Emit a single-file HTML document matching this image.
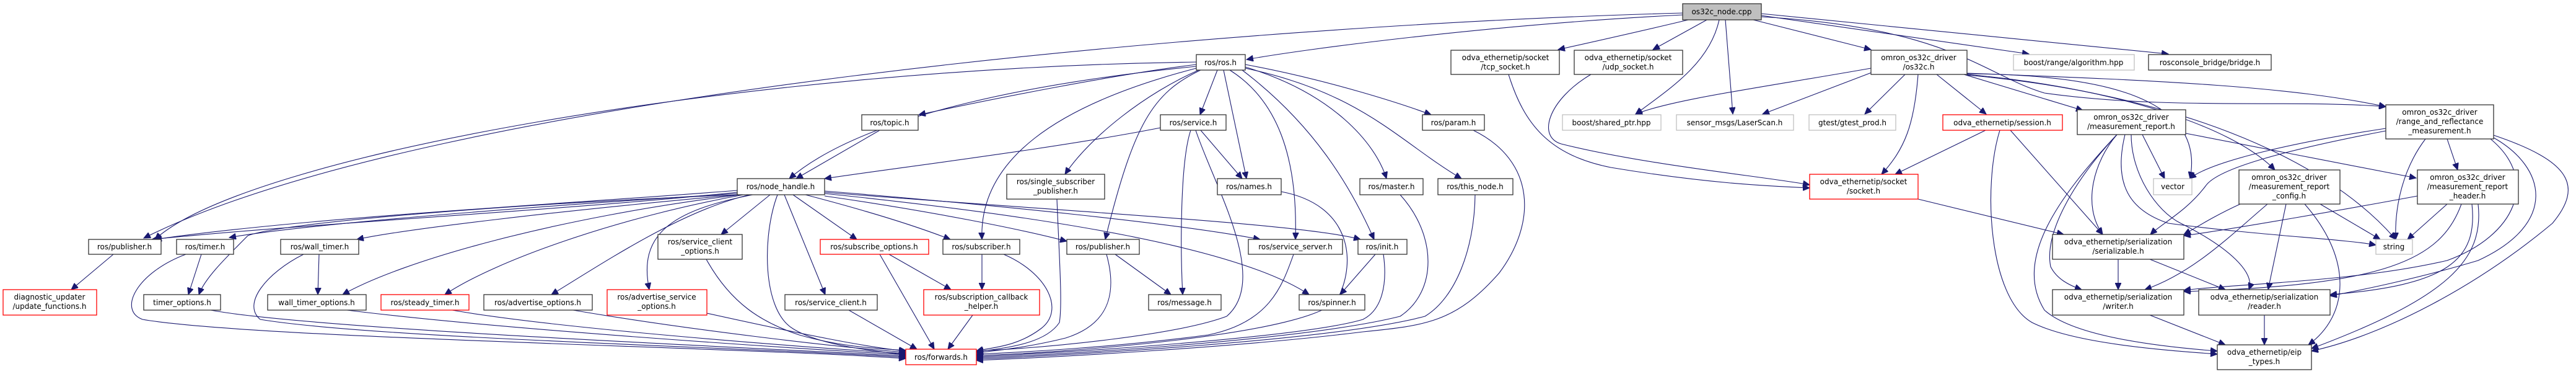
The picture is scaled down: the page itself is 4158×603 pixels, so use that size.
<!DOCTYPE html>
<html><head><meta charset="utf-8"><style>
html,body{margin:0;padding:0;background:#fff;}
svg{display:block;}
text{font-family:"DejaVu Sans","Liberation Sans",sans-serif;font-size:12px;fill:#000;text-anchor:middle;}
.n{fill:#fff;stroke:#333;stroke-width:1.3;}
.g{fill:#fff;stroke:#bfbfbf;stroke-width:1.3;}
.r{fill:#fff;stroke:#ff0000;stroke-width:1.3;}
.e path{fill:none;stroke:#191970;stroke-width:1.1;marker-end:url(#a);}
</style></head><body>
<svg width="4158" height="603" viewBox="0 0 4158 603" xmlns="http://www.w3.org/2000/svg">
<defs><marker id="a" markerUnits="userSpaceOnUse" markerWidth="12" markerHeight="10" refX="11" refY="5" orient="auto"><path d="M0,0 L11,5 L0,10 z" fill="#191970" stroke="#191970"/></marker></defs>
<g class="e">
<path d="M2716,21 C2000,40 700,150 232,384"/>
<path d="M2716,24 C2400,40 2100,80 2012,96"/>
<path d="M2725,32 C2650,50 2560,70 2515,80"/>
<path d="M2755,32 L2668,80"/>
<path d="M2775,32 C2760,100 2700,140 2640,184"/>
<path d="M2785,32 L2797,184"/>
<path d="M2830,32 L3020,80"/>
<path d="M2843,25 L3275,87"/>
<path d="M2843,22 L3500,87"/>
<path d="M2843,27 C3150,45 3200,120 3300,150 C3500,178 3700,160 3851,172"/>
<path d="M1931,100 C1200,110 400,250 250,386"/>
<path d="M1931,104 C1800,120 1600,160 1483,185"/>
<path d="M1931,107 C1700,130 1400,180 1274,288"/>
<path d="M1935,113 C1850,150 1760,220 1719,281"/>
<path d="M1931,110 C1700,170 1580,260 1585,386"/>
<path d="M1938,113 C1860,150 1830,200 1784,386"/>
<path d="M1965,113 L1937,185"/>
<path d="M1975,113 L2012,288"/>
<path d="M1985,113 C2060,160 2095,250 2091,386"/>
<path d="M2010,104 C2150,130 2270,170 2310,185"/>
<path d="M2010,108 C2150,150 2220,230 2238,288"/>
<path d="M2010,110 C2200,150 2260,230 2359,288"/>
<path d="M2005,113 C2120,200 2180,300 2218,386"/>
<path d="M1420,210 L1285,288"/>
<path d="M1873,206 C1700,240 1450,270 1331,288"/>
<path d="M1938,210 L2005,288"/>
<path d="M1922,210 C1905,260 1905,400 1909,475"/>
<path d="M1930,210 C1960,300 2050,450 1980,510 C1900,540 1700,560 1576,566"/>
<path d="M1190,307 C900,330 500,350 250,386"/>
<path d="M1190,310 C900,340 500,360 245,386"/>
<path d="M1190,312 C900,330 500,360 370,383"/>
<path d="M1190,314 C800,330 450,360 400,380 C360,420 330,450 321,475"/>
<path d="M1190,314 C900,340 650,370 576,386"/>
<path d="M1195,314 C900,350 650,420 553,475"/>
<path d="M1200,314 C1000,350 800,420 718,475"/>
<path d="M1210,314 C1100,340 980,420 890,475"/>
<path d="M1215,314 C1080,340 1030,380 1048,467"/>
<path d="M1243,314 L1164,378"/>
<path d="M1255,314 C1230,380 1230,500 1280,530 C1320,555 1400,565 1462,572"/>
<path d="M1266,314 L1332,475"/>
<path d="M1280,314 L1383,386"/>
<path d="M1300,314 C1400,340 1480,365 1534,386"/>
<path d="M1331,316 C1500,340 1650,370 1722,389"/>
<path d="M1331,308 C1600,330 1900,360 2034,386"/>
<path d="M1331,310 C1700,340 2100,360 2196,386"/>
<path d="M1331,312 C1700,350 2000,400 2113,475"/>
<path d="M325,410 L304,475"/>
<path d="M300,410 C220,440 190,500 230,515 C400,545 1200,560 1462,578"/>
<path d="M515,410 L513,475"/>
<path d="M490,410 C430,440 390,490 420,515 C600,545 1200,560 1462,576"/>
<path d="M340,500 C500,530 1200,560 1462,574"/>
<path d="M560,500 C800,530 1250,560 1462,572"/>
<path d="M730,500 C900,530 1300,560 1462,570"/>
<path d="M925,500 C1100,530 1350,560 1462,568"/>
<path d="M1141,505 C1300,540 1400,560 1462,566"/>
<path d="M1140,418 C1180,490 1230,520 1290,540 C1360,560 1420,562 1462,565"/>
<path d="M1370,500 L1480,563"/>
<path d="M1420,410 L1508,563"/>
<path d="M1435,410 L1535,467"/>
<path d="M1585,410 L1585,467"/>
<path d="M1620,410 C1690,440 1720,500 1680,530 C1640,560 1600,560 1576,566"/>
<path d="M1570,508 L1530,563"/>
<path d="M1786,410 C1800,460 1800,520 1720,545 C1660,560 1610,565 1576,569"/>
<path d="M1800,410 L1890,475"/>
<path d="M1706,321 C1710,420 1715,490 1710,520 C1690,550 1640,560 1576,567"/>
<path d="M2088,410 C2070,460 2050,520 1950,540 C1800,560 1650,568 1576,571"/>
<path d="M2068,309 C2180,330 2190,420 2160,480 C2130,540 1700,570 1576,573"/>
<path d="M2220,410 L2163,475"/>
<path d="M2233,410 C2240,460 2230,500 2200,515 C2100,545 1700,570 1576,575"/>
<path d="M2260,314 C2320,380 2320,470 2260,510 C2100,550 1700,572 1576,577"/>
<path d="M2381,314 C2380,400 2350,480 2300,510 C2150,550 1700,574 1576,579"/>
<path d="M2378,210 C2480,260 2480,360 2420,440 C2350,520 2300,525 2200,535 C2000,560 1700,576 1576,581"/>
<path d="M183,410 L115,467"/>
<path d="M2435,120 C2460,200 2500,250 2600,270 C2750,295 2850,300 2921,303"/>
<path d="M2568,120 C2500,160 2480,220 2520,232 C2650,265 2850,285 2921,298"/>
<path d="M3096,120 C3090,200 3075,240 3037,281"/>
<path d="M3034,112 L2845,184"/>
<path d="M3020,110 C2850,140 2700,160 2640,184"/>
<path d="M3075,120 L3010,184"/>
<path d="M3126,120 L3206,184"/>
<path d="M3170,120 L3362,178"/>
<path d="M3175,118 C3500,130 3700,140 3851,172"/>
<path d="M3175,119 C3400,120 3560,160 3535,288"/>
<path d="M3175,121 C3500,150 3750,250 3867,386"/>
<path d="M3175,120 C3400,140 3600,200 3672,274"/>
<path d="M3205,210 L3059,281"/>
<path d="M3245,210 L3394,378"/>
<path d="M3228,210 C3200,300 3210,480 3280,520 C3350,555 3500,565 3579,571"/>
<path d="M3096,321 L3331,378"/>
<path d="M3458,217 L3494,288"/>
<path d="M3417,217 C3380,260 3360,330 3394,378"/>
<path d="M3417,217 C3340,300 3300,380 3310,430 C3320,450 3340,460 3360,467"/>
<path d="M3417,217 C3320,320 3250,420 3300,500 C3350,545 3500,560 3579,566"/>
<path d="M3430,217 C3410,300 3440,340 3500,360 C3650,380 3780,385 3835,395"/>
<path d="M3440,217 C3440,280 3480,340 3520,360 C3600,400 3640,440 3630,467"/>
<path d="M3528,215 L3900,287"/>
<path d="M3851,207 C3700,230 3570,260 3534,288"/>
<path d="M3851,211 C3700,240 3580,270 3560,300 C3530,340 3490,360 3471,378"/>
<path d="M3915,224 C3880,270 3865,330 3867,386"/>
<path d="M3950,224 L3967,274"/>
<path d="M4020,224 C4100,290 4060,380 3950,420 C3800,455 3600,458 3525,468"/>
<path d="M4025,222 C4110,270 4130,360 4000,420 C3900,450 3800,470 3761,477"/>
<path d="M4025,218 C4150,260 4170,300 4120,360 C4000,460 3850,540 3731,566"/>
<path d="M3616,329 C3570,350 3540,370 3525,378"/>
<path d="M3660,329 C3600,380 3540,440 3462,467"/>
<path d="M3690,329 L3661,467"/>
<path d="M3720,329 C3800,420 3790,510 3726,556"/>
<path d="M3745,329 L3842,386"/>
<path d="M3902,316 C3800,335 3600,370 3525,380"/>
<path d="M3950,329 L3886,386"/>
<path d="M3973,329 C3940,420 3850,460 3525,470"/>
<path d="M3990,329 C4000,420 3950,460 3761,475"/>
<path d="M4000,329 C4010,420 3950,480 3731,562"/>
<path d="M3419,418 L3419,467"/>
<path d="M3470,418 L3592,467"/>
<path d="M3470,508 L3592,556"/>
<path d="M3655,508 L3655,556"/>
</g>
<g>
<rect x="2716" y="6" width="127" height="26" fill="#bfbfbf" stroke="#333" stroke-width="1.3"/><text x="2779" y="23">os32c_node.cpp</text>
<rect class="n" x="1931" y="88" width="79" height="25"/><text x="1970" y="105">ros/ros.h</text>
<rect class="n" x="2342" y="81" width="175" height="39"/><text x="2430" y="97">odva_ethernetip/socket</text><text x="2430" y="112">/tcp_socket.h</text>
<rect class="n" x="2541" y="81" width="175" height="39"/><text x="2628" y="97">odva_ethernetip/socket</text><text x="2628" y="112">/udp_socket.h</text>
<rect class="n" x="3020" y="81" width="155" height="39"/><text x="3097" y="97">omron_os32c_driver</text><text x="3097" y="112">/os32c.h</text>
<rect class="g" x="3250" y="88" width="195" height="25"/><text x="3347" y="105">boost/range/algorithm.hpp</text>
<rect class="n" x="3468" y="88" width="198" height="25"/><text x="3567" y="105">rosconsole_bridge/bridge.h</text>
<rect class="n" x="1391" y="185" width="91" height="25"/><text x="1436" y="202">ros/topic.h</text>
<rect class="n" x="1873" y="185" width="106" height="25"/><text x="1926" y="202">ros/service.h</text>
<rect class="n" x="2296" y="185" width="100" height="25"/><text x="2346" y="202">ros/param.h</text>
<rect class="g" x="2522" y="185" width="159" height="25"/><text x="2601" y="202">boost/shared_ptr.hpp</text>
<rect class="g" x="2706" y="185" width="189" height="25"/><text x="2800" y="202">sensor_msgs/LaserScan.h</text>
<rect class="g" x="2920" y="185" width="140" height="25"/><text x="2990" y="202">gtest/gtest_prod.h</text>
<rect class="r" x="3136" y="185" width="193" height="25"/><text x="3232" y="202">odva_ethernetip/session.h</text>
<rect class="n" x="3353" y="177" width="175" height="40"/><text x="3440" y="193">omron_os32c_driver</text><text x="3440" y="208">/measurement_report.h</text>
<rect class="n" x="3851" y="169" width="174" height="55"/><text x="3938" y="185">omron_os32c_driver</text><text x="3938" y="200">/range_and_reflectance</text><text x="3938" y="215">_measurement.h</text>
<rect class="n" x="1190" y="288" width="141" height="26"/><text x="1260" y="305">ros/node_handle.h</text>
<rect class="n" x="1625" y="281" width="158" height="40"/><text x="1704" y="297">ros/single_subscriber</text><text x="1704" y="312">_publisher.h</text>
<rect class="n" x="1965" y="288" width="103" height="26"/><text x="2016" y="305">ros/names.h</text>
<rect class="n" x="2195" y="288" width="102" height="26"/><text x="2246" y="305">ros/master.h</text>
<rect class="n" x="2321" y="288" width="121" height="26"/><text x="2381" y="305">ros/this_node.h</text>
<rect class="r" x="2921" y="281" width="175" height="40"/><text x="3008" y="297">odva_ethernetip/socket</text><text x="3008" y="312">/socket.h</text>
<rect class="g" x="3476" y="288" width="62" height="26"/><text x="3507" y="305">vector</text>
<rect class="n" x="3614" y="274" width="163" height="55"/><text x="3695" y="290">omron_os32c_driver</text><text x="3695" y="305">/measurement_report</text><text x="3695" y="320">_config.h</text>
<rect class="n" x="3902" y="274" width="163" height="55"/><text x="3983" y="290">omron_os32c_driver</text><text x="3983" y="305">/measurement_report</text><text x="3983" y="320">_header.h</text>
<rect class="n" x="143" y="386" width="117" height="24"/><text x="201" y="402">ros/publisher.h</text>
<rect class="n" x="285" y="386" width="92" height="24"/><text x="331" y="402">ros/timer.h</text>
<rect class="n" x="453" y="386" width="126" height="24"/><text x="516" y="402">ros/wall_timer.h</text>
<rect class="n" x="1062" y="378" width="136" height="40"/><text x="1130" y="394">ros/service_client</text><text x="1130" y="409">_options.h</text>
<rect class="r" x="1324" y="386" width="175" height="24"/><text x="1411" y="402">ros/subscribe_options.h</text>
<rect class="n" x="1522" y="386" width="124" height="24"/><text x="1584" y="402">ros/subscriber.h</text>
<rect class="n" x="1722" y="386" width="117" height="24"/><text x="1780" y="402">ros/publisher.h</text>
<rect class="n" x="2015" y="386" width="152" height="24"/><text x="2091" y="402">ros/service_server.h</text>
<rect class="n" x="2192" y="386" width="79" height="24"/><text x="2231" y="402">ros/init.h</text>
<rect class="n" x="3313" y="378" width="212" height="40"/><text x="3419" y="394">odva_ethernetip/serialization</text><text x="3419" y="409">/serializable.h</text>
<rect class="g" x="3835" y="386" width="59" height="24"/><text x="3864" y="402">string</text>
<rect class="r" x="5" y="467" width="151" height="41"/><text x="80" y="483">diagnostic_updater</text><text x="80" y="498">/update_functions.h</text>
<rect class="n" x="232" y="475" width="124" height="25"/><text x="294" y="492">timer_options.h</text>
<rect class="n" x="432" y="475" width="159" height="25"/><text x="511" y="492">wall_timer_options.h</text>
<rect class="r" x="615" y="475" width="142" height="25"/><text x="686" y="492">ros/steady_timer.h</text>
<rect class="n" x="781" y="475" width="175" height="25"/><text x="868" y="492">ros/advertise_options.h</text>
<rect class="r" x="980" y="467" width="161" height="41"/><text x="1060" y="483">ros/advertise_service</text><text x="1060" y="498">_options.h</text>
<rect class="n" x="1267" y="475" width="149" height="25"/><text x="1341" y="492">ros/service_client.h</text>
<rect class="r" x="1491" y="467" width="187" height="41"/><text x="1584" y="483">ros/subscription_callback</text><text x="1584" y="498">_helper.h</text>
<rect class="n" x="1854" y="475" width="117" height="25"/><text x="1912" y="492">ros/message.h</text>
<rect class="n" x="2097" y="475" width="106" height="25"/><text x="2150" y="492">ros/spinner.h</text>
<rect class="n" x="3313" y="467" width="212" height="41"/><text x="3419" y="483">odva_ethernetip/serialization</text><text x="3419" y="498">/writer.h</text>
<rect class="n" x="3549" y="467" width="212" height="41"/><text x="3655" y="483">odva_ethernetip/serialization</text><text x="3655" y="498">/reader.h</text>
<rect class="r" x="1462" y="563" width="114" height="25"/><text x="1519" y="580">ros/forwards.h</text>
<rect class="n" x="3579" y="556" width="152" height="40"/><text x="3655" y="572">odva_ethernetip/eip</text><text x="3655" y="587">_types.h</text>
</g>
</svg>
</body></html>
